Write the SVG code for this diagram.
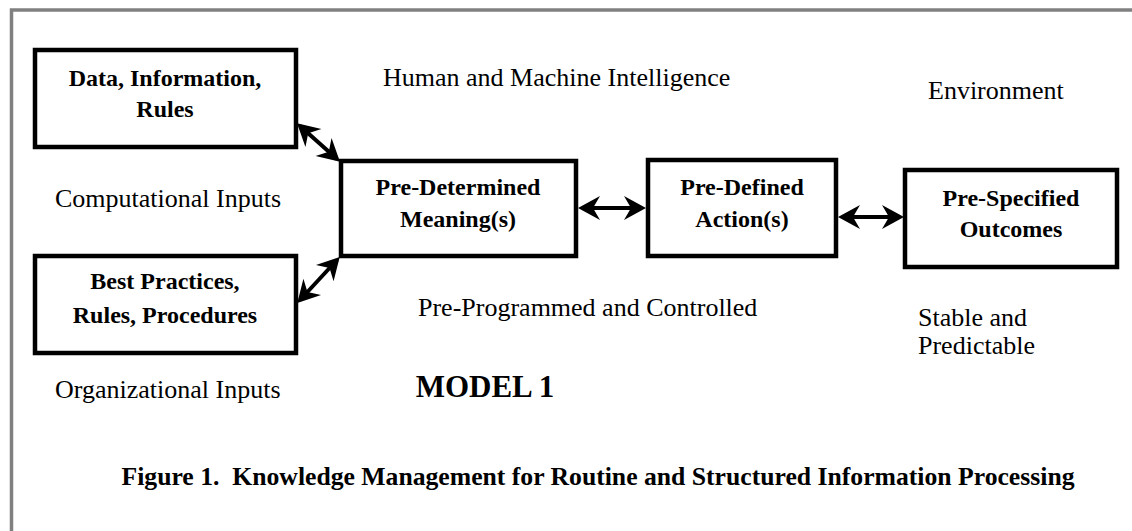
<svg xmlns="http://www.w3.org/2000/svg" width="1132" height="531" viewBox="0 0 1132 531">
<style>
.box{fill:#fff;stroke:#000;stroke-width:4.5}
.bt{font-family:"Liberation Serif","Times New Roman",serif;font-weight:bold;font-size:24px;fill:#000;text-anchor:middle}
.rt{font-family:"Liberation Serif","Times New Roman",serif;font-size:26px;fill:#000}
.conn{stroke:#000;stroke-width:4;fill:none;marker-start:url(#ah);marker-end:url(#ah)}
</style>
<defs>
<marker id="ah" markerUnits="userSpaceOnUse" viewBox="-22 -13 28 26" refX="0" refY="0" markerWidth="28" markerHeight="26" orient="auto-start-reverse">
<path d="M4,0 L-18,-12 L-11,0 L-18,12 Z" fill="#000"/>
</marker>
</defs>
<rect width="1132" height="531" fill="#fff"/>
<path d="M11.5,531 V10 H1132" fill="none" stroke="#808080" stroke-width="3.5"/>
<g id="connectors">
<line class="conn" x1="300" y1="126" x2="337" y2="159"/>
<line class="conn" x1="300" y1="300" x2="337" y2="260"/>
<line class="conn" x1="582" y1="208" x2="642" y2="208"/>
<line class="conn" x1="842" y1="217" x2="900" y2="217"/>
</g>
<g id="node-data">
<rect class="box" x="35" y="50" width="261" height="97"/>
<text class="bt" x="165" y="86">Data, Information,</text>
<text class="bt" x="165" y="117">Rules</text>
</g>
<g id="node-best">
<rect class="box" x="35" y="256" width="261" height="97"/>
<text class="bt" x="165" y="289">Best Practices,</text>
<text class="bt" x="165" y="323">Rules, Procedures</text>
</g>
<g id="node-meaning">
<rect class="box" x="341" y="161" width="235" height="95"/>
<text class="bt" x="458" y="195">Pre-Determined</text>
<text class="bt" x="458" y="227">Meaning(s)</text>
</g>
<g id="node-action">
<rect class="box" x="648" y="160" width="188" height="96"/>
<text class="bt" x="742" y="195">Pre-Defined</text>
<text class="bt" x="742" y="227">Action(s)</text>
</g>
<g id="node-outcomes">
<rect class="box" x="905" y="170" width="212" height="97"/>
<text class="bt" x="1011" y="206">Pre-Specified</text>
<text class="bt" x="1011" y="237">Outcomes</text>
</g>
<g id="labels">
<text class="rt" x="383" y="86">Human and Machine Intelligence</text>
<text class="rt" x="928" y="99">Environment</text>
<text class="rt" x="55" y="207">Computational Inputs</text>
<text class="rt" x="418" y="316">Pre-Programmed and Controlled</text>
<text class="rt" x="918" y="326">Stable and</text>
<text class="rt" x="918" y="354">Predictable</text>
<text class="rt" x="55" y="398">Organizational Inputs</text>
<text class="bt" x="485" y="397" style="font-size:31px">MODEL 1</text>
<text class="bt" x="598" y="485" style="font-size:25px;white-space:pre" textLength="953" lengthAdjust="spacingAndGlyphs">Figure 1.  Knowledge Management for Routine and Structured Information Processing</text>
</g>
</svg>
